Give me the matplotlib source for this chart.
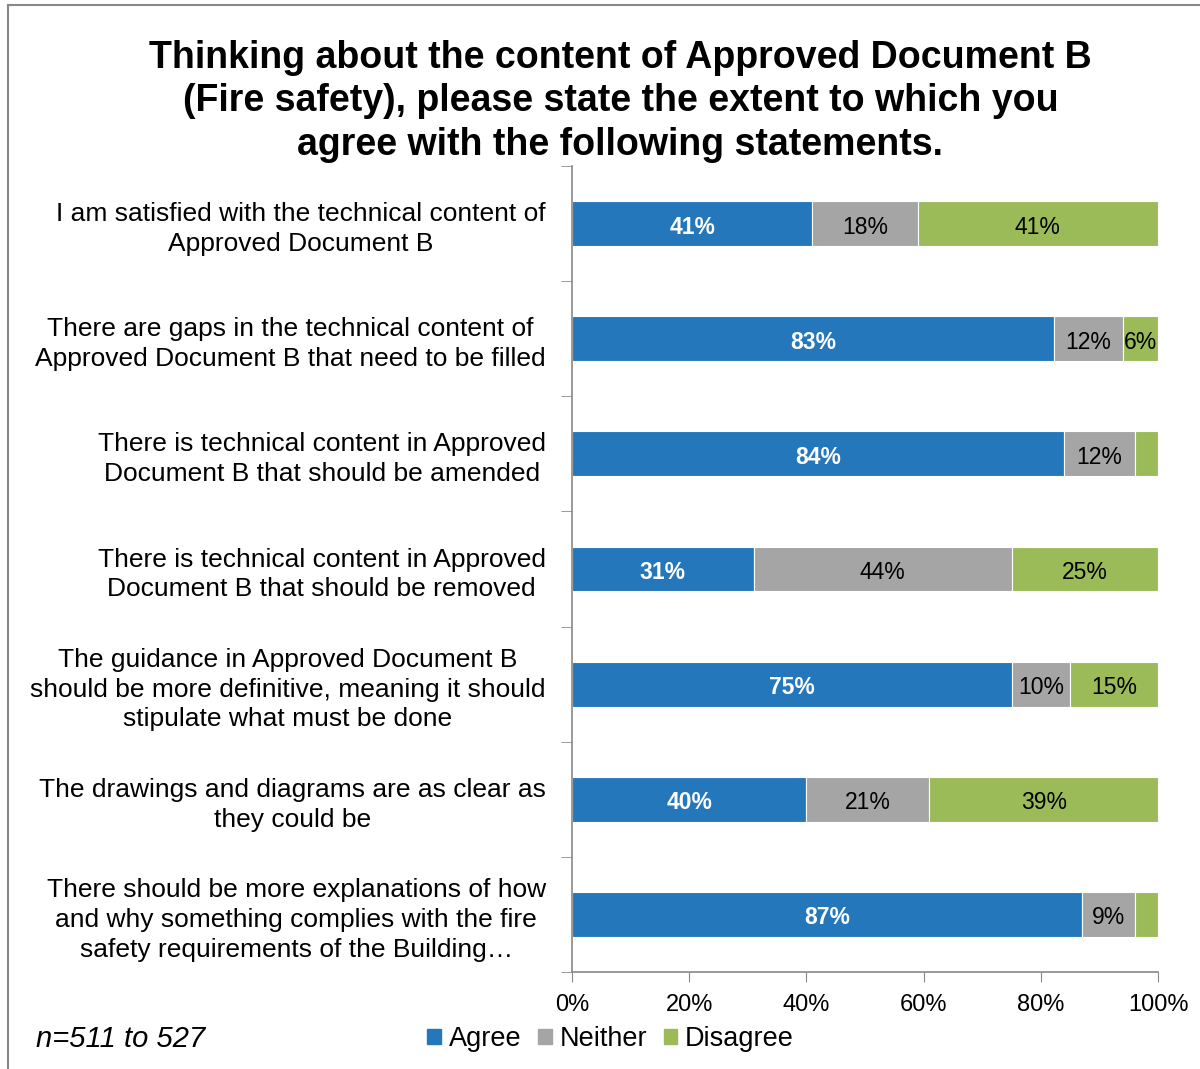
import numpy as np
import matplotlib
matplotlib.use("Agg")
import matplotlib.pyplot as plt
from matplotlib.lines import Line2D
from matplotlib.patches import Rectangle

plt.rcParams['font.family'] = ['Liberation Sans', 'DejaVu Sans']

statements = [
    "I am satisfied with the technical content of\nApproved Document B",
    "There are gaps in the technical content of\nApproved Document B that need to be filled",
    "There is technical content in Approved\nDocument B that should be amended",
    "There is technical content in Approved\nDocument B that should be removed",
    "The guidance in Approved Document B\nshould be more definitive, meaning it should\nstipulate what must be done",
    "The drawings and diagrams are as clear as\nthey could be",
    "There should be more explanations of how\nand why something complies with the fire\nsafety requirements of the Building\u2026",
]
agree = [41, 83, 84, 31, 75, 40, 87]
neither = [18, 12, 12, 44, 10, 21, 9]
disagree = [41, 6, 4, 25, 15, 39, 4]

series_names = ["Agree", "Neither", "Disagree"]
colors = ["#2577BB", "#A5A5A5", "#9BBB59"]
xticks = [0, 20, 40, 60, 80, 100]

fig = plt.figure(figsize=(12, 10.69), dpi=100)
ax = fig.add_axes([0.4767, 0.0907, 0.4883, 0.754])

data = np.array([agree, neither, disagree], dtype=float)
shares = data / data.sum(axis=0) * 100
n = len(statements)
y = np.arange(n)

left = np.zeros(n)
for i, (name, col) in enumerate(zip(series_names, colors)):
    ax.barh(y, shares[i], left=left, height=0.39, color=col,
            edgecolor="white", linewidth=0.8, label=name)
    for j in range(n):
        v = data[i, j]
        if v >= 5:
            cx = left[j] + shares[i, j] / 2
            if i == 0:
                ax.text(cx, y[j] + 0.03, f"{v:.0f}%", ha="center", va="center",
                        color="white", fontsize=16.5, fontweight="bold")
            else:
                ax.text(cx, y[j] + 0.03, f"{v:.0f}%", ha="center", va="center",
                        color="black", fontsize=16.5)
    left += shares[i]

ax.set_xlim(0, 100)
ax.set_ylim(n - 0.5, -0.5)

ax.set_xticks(xticks)
ax.set_xticklabels([f"{t}%" for t in xticks], fontsize=17)
ax.set_yticks(y)
ax.set_yticklabels(statements, fontsize=19)
for lab in ax.get_yticklabels():
    lab.set_multialignment("center")
    lab.set_linespacing(1.3)
ax.tick_params(axis="y", length=0, pad=19)
ax.tick_params(axis="x", length=7, color="#888888", pad=9, direction="out")

# category separators on the value axis
ax.set_yticks(np.arange(-0.5, n + 0.5, 1), minor=True)
ax.tick_params(axis="y", which="minor", length=8, color="#888888")

for s in ["top", "right"]:
    ax.spines[s].set_visible(False)
for s in ["left", "bottom"]:
    ax.spines[s].set_color("#888888")
    ax.spines[s].set_linewidth(1.2)

fig.text(0.517, 0.963, "Thinking about the content of Approved Document B\n"
         "(Fire safety), please state the extent to which you\n"
         "agree with the following statements.",
         ha="center", va="top", fontsize=27, fontweight="bold", linespacing=1.28)

handles = [Rectangle((0, 0), 1, 1, color=c) for c in colors]
fig.legend(handles, series_names, loc="center", bbox_to_anchor=(0.509, 0.028),
           ncol=3, frameon=False, fontsize=19.5, handlelength=0.5,
           handleheight=0.5, handletextpad=0.3, columnspacing=0.6)

fig.text(0.03, 0.028, "n=511 to 527", ha="left", va="center",
         fontsize=21, style="italic")

# outer frame
fig.add_artist(Line2D([0.007, 0.007], [0.0, 0.995], color="#888888", lw=1.5,
                      transform=fig.transFigure))
fig.add_artist(Line2D([0.007, 1.0], [0.995, 0.995], color="#888888", lw=1.5,
                      transform=fig.transFigure))

fig.savefig("out.png", dpi=100)
